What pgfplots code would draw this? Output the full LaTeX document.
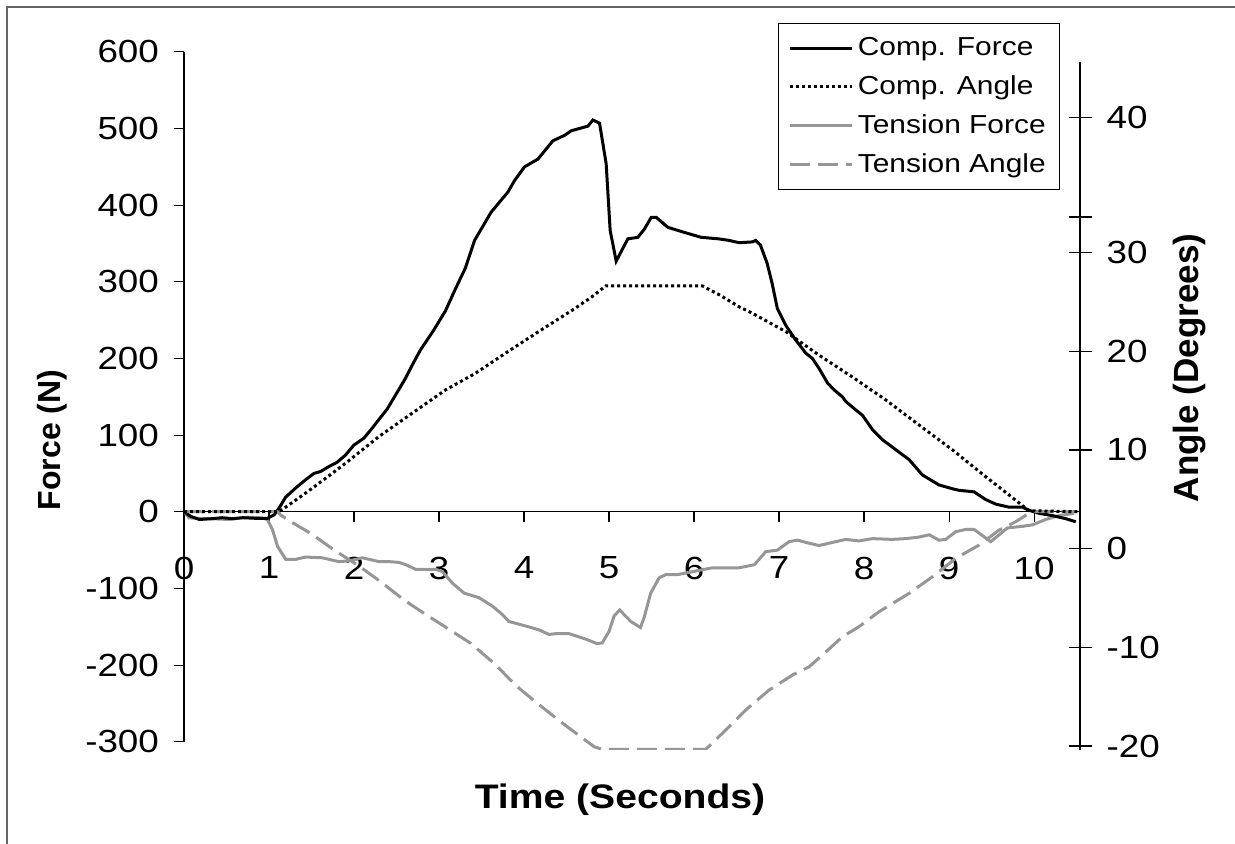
\documentclass[border=0pt]{standalone}
\usepackage{fontspec}
\setmainfont{Liberation Sans}
\newfontfamily\sfont{Liberation Sans}[FakeStretch=1.15]
\usepackage{pgfplots}
\pgfplotsset{compat=1.18}
\definecolor{tgray}{RGB}{150,150,150}

\pgfplotstableread{
x y
0 0
0.08 -6
0.18 -10
0.33 -9
0.45 -7.7
0.57 -9
0.69 -7.7
0.84 -8.5
0.98 -8.5
1.06 -4
1.118 4.8
1.195 19
1.313 31
1.43 41.7
1.528 50
1.606 52.5
1.704 59
1.802 64.7
1.9 74
1.998 87
2.116 96
2.213 109
2.29 120
2.39 134
2.487 152
2.605 174
2.683 191
2.781 211
2.938 237
3.075 262
3.19 290
3.31 318
3.418 354
3.614 391
3.81 417
3.888 432
4.006 450
4.163 460
4.34 484
4.477 491
4.555 497
4.751 503
4.81 511
4.888 507
4.966 454
5.013 367
5.084 327
5.221 356
5.339 358
5.417 369
5.496 384
5.555 384
5.692 371
5.868 365
6.084 358
6.29 356
6.41 354
6.53 351
6.686 352
6.725 354
6.78 348
6.86 324
6.918 298
6.98 265
7.08 243
7.196 224
7.314 207
7.392 200
7.47 187
7.57 168
7.647 159
7.745 150
7.784 144
7.9 133
7.98 126
8.1 107
8.216 94
8.373 81
8.53 68
8.686 48
8.882 35
9.04 30
9.118 28
9.294 26
9.43 16
9.549 10
9.706 6
9.863 6
9.94 2
10.059 -2
10.216 -5
10.373 -9
10.49 -13
}\compforce

\pgfplotstableread{
x y
0 0
0.06 -8
0.3 -9
0.53 -10
0.75 -7
0.92 -8
0.98 -10
1.04 -23
1.1 -45
1.196 -62
1.314 -62
1.43 -59
1.627 -60
1.82 -65
1.94 -64
2.098 -60
2.294 -65
2.41 -65
2.53 -66
2.608 -69
2.725 -75
2.96 -75
3.039 -78
3.157 -93
3.294 -106
3.47 -112
3.627 -123
3.745 -134
3.82 -143
4.02 -149
4.176 -154
4.294 -160
4.37 -159
4.53 -159
4.725 -166
4.86 -172
4.92 -171
5.0 -156
5.059 -136
5.125 -128
5.255 -143
5.37 -151
5.412 -138
5.49 -106
5.59 -86
5.667 -82
5.804 -82
5.94 -79
6.216 -73
6.53 -73
6.71 -69
6.843 -52
6.98 -50
7.118 -39
7.216 -37
7.353 -41
7.47 -44
7.627 -40
7.784 -36
7.94 -38
8.098 -35
8.333 -36
8.49 -35
8.647 -33
8.765 -30
8.882 -37
8.96 -36
9.078 -26
9.196 -23
9.294 -23
9.392 -31
9.49 -39
9.588 -30
9.686 -21
9.863 -19
9.98 -17
10.137 -10
10.29 -5
10.47 -2
}\tensforce

\pgfplotstableread{
x y
0 3.74
1.116 3.74
1.233 4.42
1.508 6.11
1.9 8.64
2.29 11.34
2.683 13.71
3.075 16.07
3.428 17.76
3.78 19.79
4.17 21.98
4.57 24.17
4.8 25.52
4.96 26.61
6.1 26.61
6.3 25.7
6.53 24.5
6.686 23.84
7.08 21.98
7.47 19.6
7.86 17.4
8.255 15.06
8.647 12.52
9.04 10.0
9.43 7.29
9.706 5.43
9.94 3.84
10.51 3.74
}\compangle

\pgfplotstableread{
x y
0 3.74
1.1 3.74
1.137 3.40
1.255 2.73
1.49 1.55
1.765 -0.14
2.04 -1.66
2.314 -3.35
2.588 -5.21
2.824 -6.56
3.1 -8.08
3.373 -9.59
3.647 -11.62
3.92 -13.99
4.157 -15.67
4.43 -17.54
4.667 -19.06
4.824 -20.07
4.92 -20.33
6.137 -20.33
6.333 -18.71
6.608 -16.35
6.882 -14.33
7.157 -12.81
7.353 -11.97
7.51 -10.78
7.745 -8.93
7.94 -7.91
8.176 -6.39
8.53 -4.53
8.804 -2.85
9.078 -0.98
9.353 0.36
9.588 1.88
9.784 2.73
9.94 3.58
9.98 3.74
10.5 3.74
}\tensangle

\begin{document}
\begin{tikzpicture}
\useasboundingbox (0,0) rectangle (617.5pt,422pt);
\draw[gray!80!black, line width=1pt] (3.5pt,0pt) -- (3.5pt,418.5pt) -- (617.5pt,418.5pt);

\begin{axis}[
  at={(92pt,51.1pt)}, anchor=south west,
  scale only axis, width=448pt, height=345pt,
  xmin=0, xmax=10.54, ymin=-300, ymax=600,
  axis y line=left, axis x line=middle,
  axis line style={-, black, line width=0.6pt},
  hide obscured x ticks=false, hide obscured y ticks=false,
  xtick={0,...,10}, xticklabels={0,1,2,3,4,5,6,7,8,9,10},
  ytick={-300,-200,...,600},
  yticklabels={-300,-200,-100,0,100,200,300,400,500,600},
  tick align=outside, major tick length=5pt,
  tick style={black, line width=0.6pt},
  ticklabel style={font=\sfont\fontsize{16}{19}\selectfont},
  xticklabel style={yshift=-14pt},
  yticklabel style={xshift=-4pt},
]
\addplot[tgray, line width=1.5pt] table {\tensforce};
\addplot[black, line width=1.5pt] table {\compforce};
\end{axis}

\begin{axis}[
  at={(92pt,47pt)}, anchor=south west,
  scale only axis, width=448pt, height=344pt,
  xmin=0, xmax=10.54, ymin=-20.4, ymax=49.3,
  axis x line=none, axis y line=right,
  axis line style={-, black, line width=0.6pt},
  ytick={-20,-10,0,10,20,30,33.6,43.7},
  yticklabels={-20,-10,0,10,20,30,{},40},
  tick align=center, major tick length=11.5pt,
  tick style={black, line width=0.6pt},
  ticklabel style={font=\sfont\fontsize{16}{19}\selectfont},
  yticklabel style={xshift=4pt},
  legend style={at={(0.978,1.0567)}, anchor=north east, draw=black,
    line width=0.6pt, fill=white,
    font=\sfont\fontsize{13}{16}\selectfont,
    cells={anchor=west}, row sep=4.6pt, inner xsep=5pt, inner ysep=5pt},
  legend image code/.code={\draw[#1] (0pt,0pt) -- (31pt,0pt);},
]
\addlegendimage{black, line width=1.5pt}
\addlegendimage{black, line width=1.5pt, dash pattern=on 1.5pt off 1.5pt}
\addlegendimage{tgray, line width=1.5pt}
\addlegendimage{tgray, line width=1.5pt, dash pattern=on 10pt off 4pt}
\addplot[tgray, line width=1.5pt, dash pattern=on 10pt off 4pt, forget plot] table {\tensangle};
\addplot[black, line width=1.5pt, dash pattern=on 1.5pt off 1.5pt, forget plot] table {\compangle};
\legend{Comp. Force, Comp. Angle, Tension Force, Tension Angle}
\end{axis}

\node[font=\sfont\bfseries\fontsize{17}{20}\selectfont] at (310pt,22pt) {Time (Seconds)};
\node[rotate=90, font=\bfseries\fontsize{16}{19}\selectfont] at (26pt,202pt) {Force (N)};
\node[rotate=90, font=\bfseries\fontsize{17.5}{20}\selectfont] at (595pt,238pt) {Angle (Degrees)};
\end{tikzpicture}
\end{document}
